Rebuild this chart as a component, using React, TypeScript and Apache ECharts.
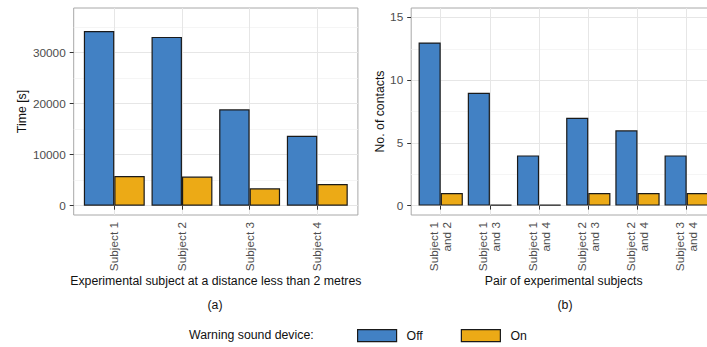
import React, { useEffect, useRef } from 'react';
import * as echarts from 'echarts';

// ---- Data ----
const subjects = ['Subject 1', 'Subject 2', 'Subject 3', 'Subject 4'];
const timeOff = [34250, 33100, 18900, 13700];
const timeOn = [5800, 5700, 3400, 4250];
const timeMajorTicks = [0, 10000, 20000, 30000];
const timeMinorTicks = [5000, 15000, 25000, 35000];

const pairs = [
  'Subject 1\nand 2',
  'Subject 1\nand 3',
  'Subject 1\nand 4',
  'Subject 2\nand 3',
  'Subject 2\nand 4',
  'Subject 3\nand 4',
];
const contactsOff = [13, 9, 4, 7, 6, 4];
const contactsOn = [1, 0, 0, 1, 1, 1];
const contactMajorTicks = [0, 5, 10, 15];
const contactMinorTicks = [2.5, 7.5, 12.5];

const legendNames = ['Off', 'On'];

// ---- Styles ----
const FONT = '"Liberation Sans", Arial, Helvetica, sans-serif';
const BLUE = '#4281c4';
const ORANGE = '#ecaa16';
const EDGE = '#1a1a1a';
const TICK_TEXT = '#4d4d4d';
const TITLE_TEXT = '#111111';
const MAJOR = '#e6e6e6';
const MINOR = '#f2f2f2';
const TICK_SIZE = 11.8;
const TITLE_SIZE = 12.3;

function xAxisFor(gridIndex: number, labels: string[], name: string) {
  const pos = labels.map((_, i) => i + 1);
  return {
    type: 'value',
    gridIndex,
    min: 0.4,
    max: labels.length + 0.6,
    name,
    nameLocation: 'middle',
    nameGap: 60,
    nameMoveOverlap: false,
    nameTextStyle: { color: TITLE_TEXT, fontSize: TITLE_SIZE, fontFamily: FONT },
    axisLine: { show: false },
    axisTick: { show: true, length: 4, customValues: pos, lineStyle: { color: '#333333', width: 1 } },
    axisLabel: {
      customValues: pos,
      rotate: 90,
      margin: 7,
      color: TICK_TEXT,
      fontSize: TICK_SIZE,
      lineHeight: 13,
      fontFamily: FONT,
      formatter: (v: number) => labels[Math.round(v) - 1] ?? '',
    },
    splitLine: { show: true, lineStyle: { color: MAJOR, width: 1 } },
  };
}

function yAxisFor(gridIndex: number, min: number, max: number, major: number[], name: string, nameGap: number) {
  return {
    type: 'value',
    gridIndex,
    min,
    max,
    position: 'left',
    name,
    nameLocation: 'middle',
    nameGap,
    nameMoveOverlap: false,
    nameTextStyle: { color: TITLE_TEXT, fontSize: TITLE_SIZE, fontFamily: FONT },
    axisLine: { show: false },
    axisTick: { show: true, length: 4, customValues: major, lineStyle: { color: '#333333', width: 1 } },
    axisLabel: {
      customValues: major,
      margin: 8,
      color: TICK_TEXT,
      fontSize: TICK_SIZE,
      fontFamily: FONT,
      formatter: (v: number) => String(v),
    },
    splitLine: { show: true, lineStyle: { color: MAJOR, width: 1 } },
  };
}

function minorYAxisFor(gridIndex: number, min: number, max: number, minor: number[]) {
  return {
    type: 'value',
    gridIndex,
    min,
    max,
    position: 'left',
    axisLine: { show: false },
    axisTick: { show: false, customValues: minor },
    axisLabel: { show: false },
    splitLine: { show: true, lineStyle: { color: MINOR, width: 0.8 } },
  };
}

function barSeries(name: string, values: number[], xAxisIndex: number, yAxisIndex: number, color: string) {
  return {
    type: 'bar',
    name,
    xAxisIndex,
    yAxisIndex,
    data: values.map((v, i) => [i + 1, v]),
    barWidth: '45%',
    barGap: '0%',
    barMinHeight: 1,
    itemStyle: { color, borderColor: EDGE, borderWidth: 1.2 },
  };
}

export default function App() {
  const ref = useRef<HTMLDivElement>(null);

  useEffect(() => {
    if (!ref.current) return;
    const chart = echarts.init(ref.current, undefined, { renderer: 'svg' });
    chart.setOption({
      animation: false,
      backgroundColor: '#ffffff',
      textStyle: { fontFamily: FONT },
      grid: [
        {
          left: 73.7, top: 8, width: 284.2, height: 207,
          show: true, borderColor: '#a8a8a8', borderWidth: 1, backgroundColor: 'transparent',
          containLabel: false, outerBoundsMode: 'none',
        },
        {
          left: 411.2, top: 8, width: 305, height: 207,
          show: true, borderColor: '#a8a8a8', borderWidth: 1, backgroundColor: 'transparent',
          containLabel: false, outerBoundsMode: 'none',
        },
      ],
      xAxis: [
        xAxisFor(0, subjects, 'Experimental subject at a distance less than 2 metres'),
        xAxisFor(1, pairs, 'Pair of experimental subjects'),
      ],
      yAxis: [
        yAxisFor(0, -1827, 38764, timeMajorTicks, 'Time [s]', 46),
        minorYAxisFor(0, -1827, 38764, timeMinorTicks),
        yAxisFor(1, -0.75, 15.75, contactMajorTicks, 'No. of contacts', 25),
        minorYAxisFor(1, -0.75, 15.75, contactMinorTicks),
      ],
      legend: {
        data: legendNames,
        left: 357,
        top: 329,
        padding: 0,
        itemWidth: 39,
        itemHeight: 12,
        itemGap: 38,
        icon: 'rect',
        selectedMode: false,
        itemStyle: { borderColor: EDGE, borderWidth: 1.2 },
        textStyle: { color: TITLE_TEXT, fontSize: TITLE_SIZE, fontFamily: FONT, padding: [0, 0, 0, 5] },
      },
      graphic: [
        {
          type: 'text', left: 189, top: 329,
          style: { text: 'Warning sound device:', fontSize: TITLE_SIZE, fontFamily: FONT, fill: TITLE_TEXT },
        },
        {
          type: 'text', x: 215, y: 305,
          style: { text: '(a)', fontSize: TITLE_SIZE, fontFamily: FONT, fill: TITLE_TEXT, align: 'center', verticalAlign: 'middle' },
        },
        {
          type: 'text', x: 565, y: 304.5,
          style: { text: '(b)', fontSize: TITLE_SIZE, fontFamily: FONT, fill: TITLE_TEXT, align: 'center', verticalAlign: 'middle' },
        },
      ],
      series: [
        barSeries('Off', timeOff, 0, 0, BLUE),
        barSeries('On', timeOn, 0, 0, ORANGE),
        barSeries('Off', contactsOff, 1, 2, BLUE),
        barSeries('On', contactsOn, 1, 2, ORANGE),
      ],
    });
    return () => chart.dispose();
  }, []);

  return (
    <div
      ref={ref}
      style={{ position: 'absolute', left: 0, top: 0, width: 707, height: 347, background: '#fff' }}
    />
  );
}
